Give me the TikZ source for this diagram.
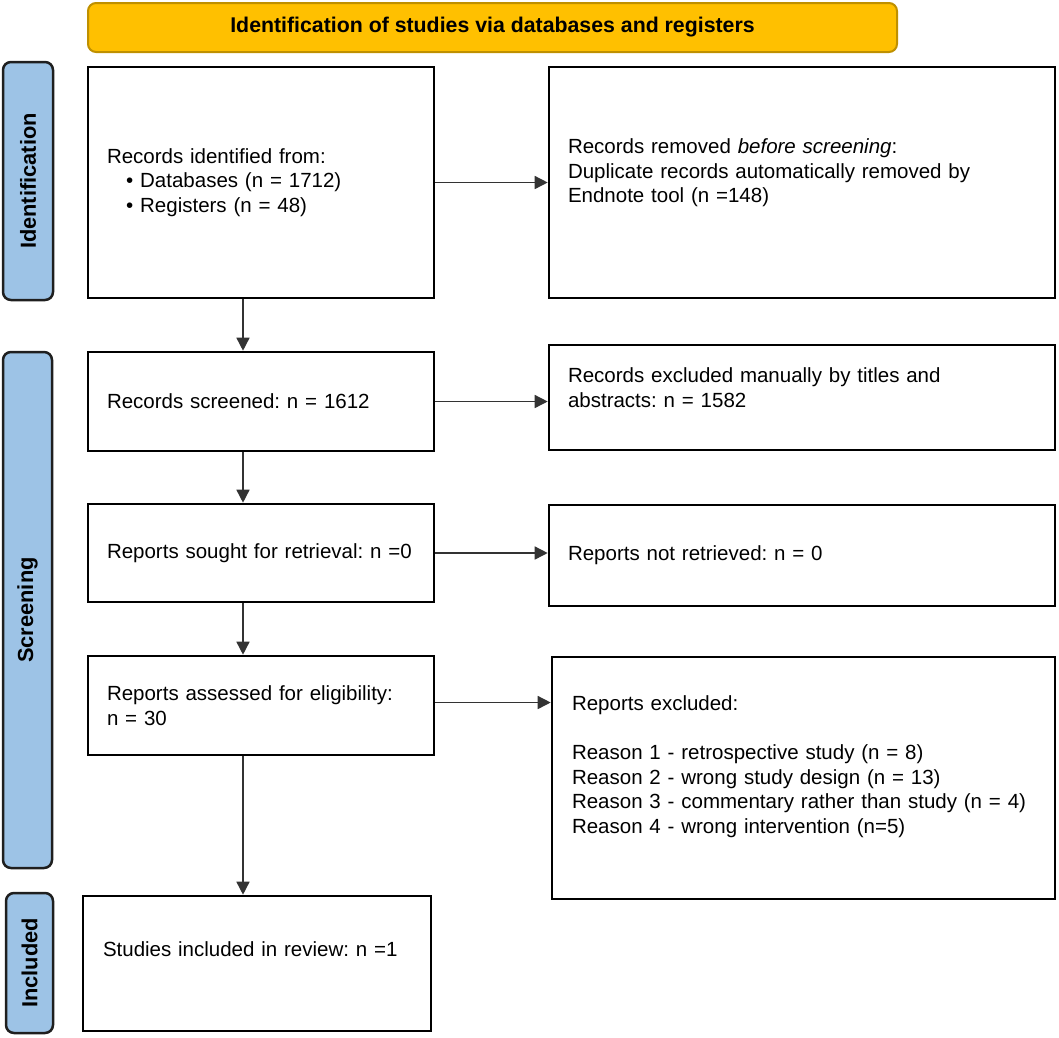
\documentclass[tikz,border=0pt]{standalone}
\usepackage{fontspec}
\setmainfont{Liberation Sans}
\usetikzlibrary{arrows.meta,calc}
\definecolor{bannerfill}{HTML}{FFC000}
\definecolor{bannerdraw}{HTML}{BF9000}
\definecolor{sidefill}{HTML}{9DC3E6}
\definecolor{sidedraw}{HTML}{1F1F1F}
\definecolor{arrowcol}{HTML}{333333}
\begin{document}
\frenchspacing
\begin{tikzpicture}[x=1pt,y=-1pt,
  txt/.style={font=\fontsize{20.5}{24.5}\selectfont},
  box/.style={txt,draw=black,line width=2.6pt,fill=white,align=left,inner xsep=19pt,inner ysep=0pt},
  banner/.style={draw=bannerdraw,line width=2pt,fill=bannerfill,rounded corners=8pt,
    font=\bfseries\fontsize{21.3}{24.5}\selectfont,inner sep=0pt},
  side/.style={draw=sidedraw,line width=2.5pt,fill=sidefill,rounded corners=8pt,rotate=90,
    font=\bfseries\fontsize{21.8}{24.5}\selectfont,inner sep=0pt},
  arr/.style={draw=arrowcol,line width=1.5pt,-{Triangle[length=13pt,width=13pt]}}]
\useasboundingbox (0,0) rectangle (1059,1037);

% banner
\node[banner,minimum width=809pt,minimum height=49pt] (ban) at (492.5,27.5)
  {Identification of studies via databases and registers};

% side bars
\node[side,minimum width=238pt,minimum height=50pt] (s1) at (28,181) {Identification};
\node[side,minimum width=516pt,minimum height=49pt] (s2) at (27.5,610) {Screening};
\node[side,minimum width=140pt,minimum height=47pt] (s3) at (29.5,963) {Included};

% left column
\node[box,minimum width=346pt,text width=308pt,minimum height=231pt] (b1) at (261,182.5)
  {Records identified from:\\
   \hspace*{19pt}\textbullet\hspace{7pt}Databases (n = 1712)\\
   \hspace*{19pt}\textbullet\hspace{7pt}Registers (n = 48)};
\node[box,minimum width=346pt,text width=308pt,minimum height=99pt] (b2) at (261,401.5)
  {Records screened: n = 1612};
\node[box,minimum width=346pt,text width=308pt,minimum height=98pt] (b3) at (261,553)
  {Reports sought for retrieval: n =0};
\node[box,minimum width=346pt,text width=308pt,minimum height=99pt] (b4) at (261,705.5)
  {Reports assessed for eligibility:\\n = 30};
\node[box,minimum width=348pt,text width=308pt,minimum height=135pt,text depth=28pt] (b5) at (257,963.5)
  {Studies included in review: n =1};

% right column
\node[box,minimum width=506pt,text width=468pt,minimum height=231pt,text depth=72pt] (r1) at (802,182.5)
  {Records removed \textit{before screening}:\\
   Duplicate records automatically removed by\\
   Endnote tool (n =148)};
\node[box,minimum width=506pt,text width=468pt,minimum height=105pt,text depth=44pt] (r2) at (802,397.5)
  {Records excluded manually by titles and\\abstracts: n = 1582};
\node[box,minimum width=506pt,text width=468pt,minimum height=101pt] (r3) at (802,555.5)
  {Reports not retrieved: n = 0};
\node[box,minimum width=503pt,text width=463pt,inner xsep=20pt,minimum height=242pt,text depth=149pt] (r4) at (803.5,778)
  {Reports excluded:\\[24.5pt]
   Reason 1 - retrospective study (n = 8)\\
   Reason 2 - wrong study design (n = 13)\\
   Reason 3 - commentary rather than study (n = 4)\\
   Reason 4 - wrong intervention (n=5)};

% horizontal connectors
\draw[arr] (b1.east) -- (b1.east -| r1.west);
\draw[arr] (b2.east) -- (b2.east -| r2.west);
\draw[arr] (b3.east) -- (b3.east -| r3.west);
\draw[arr] ([yshift=3pt]b4.east) -- ([yshift=3pt]b4.east -| r4.west);

% vertical connectors
\draw[arr] ([xshift=-18pt]b1.south) -- ([xshift=-18pt]b1.south |- b2.north);
\draw[arr] ([xshift=-18pt]b2.south) -- ([xshift=-18pt]b2.south |- b3.north);
\draw[arr] ([xshift=-18pt]b3.south) -- ([xshift=-18pt]b3.south |- b4.north);
\draw[arr] ([xshift=-18pt]b4.south) -- ([xshift=-18pt]b4.south |- b5.north);
\end{tikzpicture}
\end{document}
